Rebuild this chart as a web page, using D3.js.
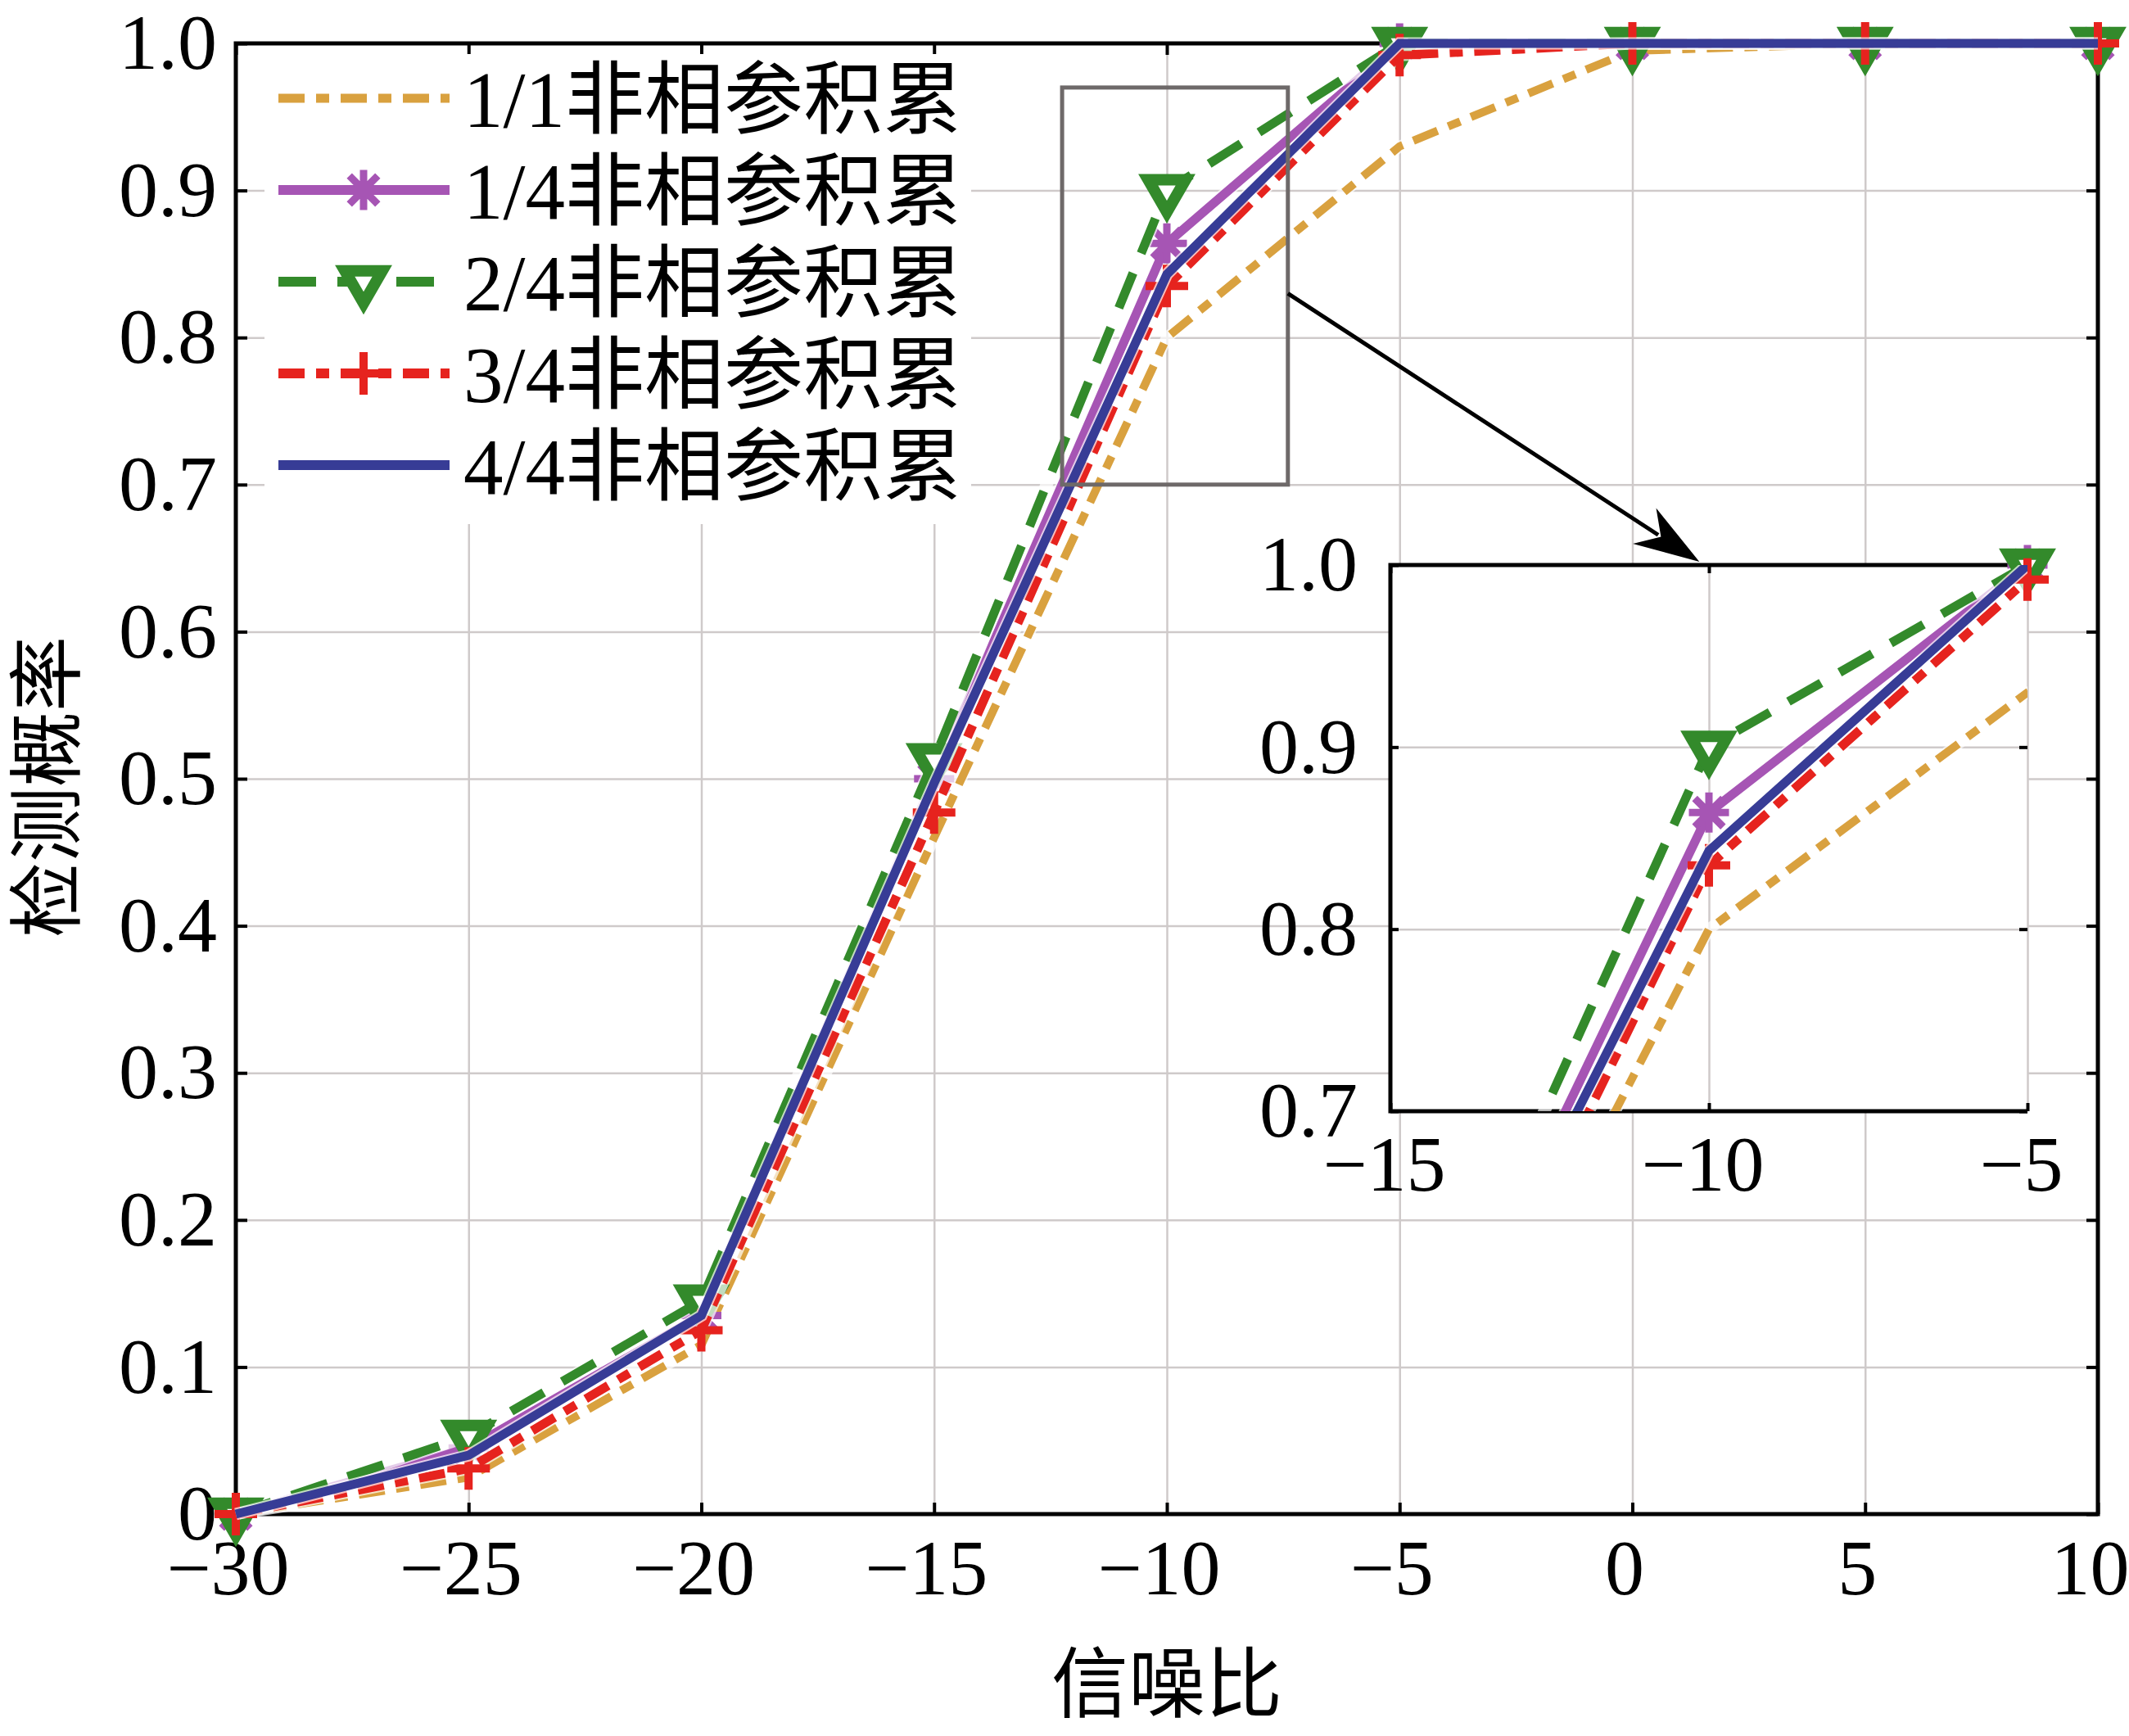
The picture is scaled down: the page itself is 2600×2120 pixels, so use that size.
<!DOCTYPE html>
<html>
<head>
<meta charset="utf-8">
<script src="https://cdn.jsdelivr.net/npm/d3@7"></script>
<style>
  body { margin: 0; background: #fff; }
  svg { display: block; }
</style>
</head>
<body>
<svg id="chart" width="2600" height="2120"></svg>
<script>
// ---------
// chart data
// ---------
var snr = [-30, -25, -20, -15, -10, -5, 0, 5, 10];
var pd11 = [0, 0.025, 0.115, 0.46, 0.80, 0.93, 0.995, 1, 1];
var pd14 = [0, 0.045, 0.135, 0.50, 0.864, 1, 1, 1, 1];
var pd24 = [0, 0.053, 0.145, 0.513, 0.90, 1, 1, 1, 1];
var pd34 = [0, 0.031, 0.125, 0.477, 0.835, 0.992, 1, 1, 1];
var pd44 = [0, 0.04, 0.135, 0.497, 0.843, 1, 1, 1, 1];
var seriesNames = ['1/1非相参积累', '1/4非相参积累', '2/4非相参积累', '3/4非相参积累', '4/4非相参积累'];

var xTicks = [-30, -25, -20, -15, -10, -5, 0, 5, 10];
var yTicks = [0, 0.1, 0.2, 0.3, 0.4, 0.5, 0.6, 0.7, 0.8, 0.9, 1.0];
var insetXTicks = [-15, -10, -5];
var insetYTicks = [0.7, 0.8, 0.9, 1.0];

// zoomed region marked in the main plot [x0, x1, y0, y1]
var zoomRegion = [-12.25, -7.4, 0.7, 0.97];
var xTitle = '信噪比';
var yTitle = '检测概率';

// ------
// styles
// ------
var styles = [
  { color: '#D9A13F', dash: '32,14,16,14', width: 10, marker: null },
  { color: '#A655B4', dash: null, width: 11, marker: 'asterisk' },
  { color: '#338A2B', dash: '46,26', width: 11, marker: 'triangle' },
  { color: '#E6231E', dash: '32,14,16,14', width: 11, marker: 'plus' },
  { color: '#373C96', dash: null, width: 11, marker: null }
];
var series = [pd11, pd14, pd24, pd34, pd44].map(function (values, i) {
  return {
    name: seriesNames[i],
    style: styles[i],
    points: snr.map(function (s, j) { return { x: s, y: values[j] }; })
  };
});

var numFont = '"Liberation Serif", "Times New Roman", serif';
var cjkFont = '"Liberation Serif", "Noto Sans CJK SC", serif';
var gridColor = '#CFCACA';

var svg = d3.select('#chart');

// main plot scales
var x = d3.scaleLinear().domain([-30, 10]).range([288, 2562]);
var y = d3.scaleLinear().domain([0, 1]).range([1849, 53]);

// inset scales
var ix = d3.scaleLinear().domain([-15, -5]).range([1698, 2476]);
var iy = d3.scaleLinear().domain([0.7, 1]).range([1357, 690]);

// marker paths
var markerPath = function (type) {
  if (type === 'triangle') {
    return d3.symbol().type(d3.symbolTriangle).size(900)();
  }
  if (type === 'plus') {
    return 'M-21,0H21M0,-21V21';
  }
  if (type === 'asterisk') {
    var r = 20, d = r * Math.SQRT1_2;
    return 'M' + (-r) + ',0H' + r + 'M0,' + (-r) + 'V' + r +
      'M' + (-d) + ',' + (-d) + 'L' + d + ',' + d +
      'M' + (-d) + ',' + d + 'L' + d + ',' + (-d);
  }
  return null;
};

var drawMarker = function (sel, st) {
  var m = sel.append('path')
    .attr('d', markerPath(st.marker))
    .attr('stroke', st.color)
    .attr('stroke-linecap', 'square');
  if (st.marker === 'triangle') {
    m.attr('fill', '#fff').attr('stroke-width', 14).attr('stroke-linejoin', 'miter');
  } else {
    m.attr('fill', 'none').attr('stroke-width', st.marker === 'plus' ? 10 : 9);
  }
  return m;
};

// draws the grid, ticks and tick labels for one set of axes
var drawAxes = function (g, sx, sy, xt, yt, opts) {
  var x0 = sx.range()[0], x1 = sx.range()[1];
  var y0 = sy.range()[1], y1 = sy.range()[0];

  // grid
  g.append('g')
    .attr('transform', 'translate(0,' + y1 + ')')
    .call(d3.axisBottom(sx).tickValues(xt).tickSize(-(y1 - y0)).tickFormat(''))
    .call(function (a) {
      a.select('.domain').remove();
      a.selectAll('line').attr('stroke', gridColor).attr('stroke-width', 2.5);
    });
  g.append('g')
    .attr('transform', 'translate(' + x0 + ',0)')
    .call(d3.axisLeft(sy).tickValues(yt).tickSize(-(x1 - x0)).tickFormat(''))
    .call(function (a) {
      a.select('.domain').remove();
      a.selectAll('line').attr('stroke', gridColor).attr('stroke-width', 2.5);
    });

  var styleTicks = function (a) {
    a.select('.domain').remove();
    a.selectAll('line').attr('stroke', '#000').attr('stroke-width', 4);
    a.selectAll('text')
      .attr('font-family', numFont)
      .attr('font-size', 96)
      .attr('fill', '#000');
  };

  // labelled bottom and left axes, ticks point inwards
  g.append('g')
    .attr('transform', 'translate(0,' + y1 + ')')
    .call(d3.axisBottom(sx).tickValues(xt).tickSize(-opts.tick).tickPadding(opts.xPad))
    .call(styleTicks)
    .selectAll('text').attr('dx', opts.xShift);
  g.append('g')
    .attr('transform', 'translate(' + x0 + ',0)')
    .call(d3.axisLeft(sy).tickValues(yt).tickSize(-opts.tick).tickPadding(opts.yPad)
      .tickFormat(function (d) { return d === 0 ? '0' : d3.format('.1f')(d); }))
    .call(styleTicks);

  // top and right ticks only
  g.append('g')
    .attr('transform', 'translate(0,' + y0 + ')')
    .call(d3.axisTop(sx).tickValues(xt).tickSize(-opts.tick).tickFormat(''))
    .call(styleTicks);
  g.append('g')
    .attr('transform', 'translate(' + x1 + ',0)')
    .call(d3.axisRight(sy).tickValues(yt).tickSize(-opts.tick).tickFormat(''))
    .call(styleTicks);
};

var line = function (sx, sy) {
  return d3.line().x(function (d) { return sx(d.x); }).y(function (d) { return sy(d.y); });
};

// draws all series onto a set of axes, each line with a thin white halo
var drawSeries = function (g, sx, sy, clipId, inside) {
  series.forEach(function (s) {
    var st = s.style;
    g.append('path')
      .datum(s.points)
      .attr('clip-path', clipId ? 'url(#' + clipId + ')' : null)
      .attr('d', line(sx, sy))
      .attr('fill', 'none')
      .attr('stroke', '#fff')
      .attr('stroke-width', st.width + 4)
      .attr('stroke-opacity', 0.7);
    g.append('path')
      .datum(s.points)
      .attr('clip-path', clipId ? 'url(#' + clipId + ')' : null)
      .attr('d', line(sx, sy))
      .attr('fill', 'none')
      .attr('stroke', st.color)
      .attr('stroke-width', st.width)
      .attr('stroke-dasharray', st.dash)
      .attr('stroke-linejoin', 'miter');

    if (st.marker) {
      s.points.filter(inside).forEach(function (p) {
        drawMarker(g, st)
          .attr('transform', 'translate(' + sx(p.x) + ',' + sy(p.y) + ')' +
            (st.marker === 'triangle' ? ' rotate(180)' : ''));
      });
    }
  });
};

// ---------
// main plot
// ---------
var main = svg.append('g').attr('class', 'main');

drawAxes(main, x, y, xTicks, yTicks, { tick: 14, xPad: 30, yPad: 23, xShift: -10 });

// main frame, drawn under the data lines
main.append('path')
  .attr('d', 'M' + x(-30) + ',' + y(1) + 'H' + x(10) + 'V' + y(0) + 'H' + x(-30) + 'Z')
  .attr('fill', 'none')
  .attr('stroke', '#000')
  .attr('stroke-width', 5);

drawSeries(main, x, y, null, function () { return true; });

// axis titles
svg.append('text')
  .attr('x', (x(-30) + x(10)) / 2)
  .attr('y', 2090)
  .attr('text-anchor', 'middle')
  .attr('font-family', cjkFont)
  .attr('font-size', 94)
  .text(xTitle);
svg.append('text')
  .attr('transform', 'translate(90,' + ((y(0) + y(1)) / 2 + 10) + ') rotate(-90)')
  .attr('text-anchor', 'middle')
  .attr('font-family', cjkFont)
  .attr('font-size', 92)
  .text(yTitle);

// ------
// legend
// ------
var legend = svg.append('g').attr('class', 'legend');
legend.append('rect')
  .attr('x', 323).attr('y', 66)
  .attr('width', 863).attr('height', 574)
  .attr('fill', '#fff');

series.forEach(function (s, i) {
  var st = s.style;
  var ly = 120 + i * 112;
  var row = legend.append('g').attr('transform', 'translate(0,' + ly + ')');
  row.append('line')
    .attr('x1', 340).attr('x2', 549)
    .attr('stroke', st.color)
    .attr('stroke-width', st.width + 1)
    .attr('stroke-dasharray', st.dash);
  if (st.marker) {
    drawMarker(row, st)
      .attr('transform', 'translate(444,0)' + (st.marker === 'triangle' ? ' rotate(180)' : ''));
  }
  row.append('text')
    .attr('x', 566)
    .attr('dy', '0.36em')
    .attr('font-family', cjkFont)
    .attr('font-size', 97)
    .text(s.name);
});

// ----------------------
// zoom marker and arrow
// ----------------------
svg.append('rect')
  .attr('x', x(zoomRegion[0]))
  .attr('y', y(zoomRegion[3]))
  .attr('width', x(zoomRegion[1]) - x(zoomRegion[0]))
  .attr('height', y(zoomRegion[2]) - y(zoomRegion[3]))
  .attr('fill', 'none')
  .attr('stroke', '#6E6969')
  .attr('stroke-width', 5);

var ax0 = x(zoomRegion[1]), ay0 = y(0.83);
var ax1 = ix(-10.15), ay1 = iy(1) - 4;
var ang = Math.atan2(ay1 - ay0, ax1 - ax0);
var headLen = 80, headW = 26;
var bx = ax1 - headLen * Math.cos(ang), by = ay1 - headLen * Math.sin(ang);
svg.append('line')
  .attr('x1', ax0).attr('y1', ay0)
  .attr('x2', bx + 20 * Math.cos(ang)).attr('y2', by + 20 * Math.sin(ang))
  .attr('stroke', '#000')
  .attr('stroke-width', 5);
svg.append('path')
  .attr('d', 'M' + ax1 + ',' + ay1 +
    'L' + (bx + headW * Math.sin(ang)) + ',' + (by - headW * Math.cos(ang)) +
    'L' + (bx + 24 * Math.cos(ang)) + ',' + (by + 24 * Math.sin(ang)) +
    'L' + (bx - headW * Math.sin(ang)) + ',' + (by + headW * Math.cos(ang)) + 'Z')
  .attr('fill', '#000');

// -----
// inset
// -----
var inset = svg.append('g').attr('class', 'inset');
svg.append('defs').append('clipPath').attr('id', 'inset-clip')
  .append('rect')
  .attr('x', ix(-15)).attr('y', iy(1))
  .attr('width', ix(-5) - ix(-15)).attr('height', iy(0.7) - iy(1));

inset.append('rect')
  .attr('x', ix(-15)).attr('y', iy(1))
  .attr('width', ix(-5) - ix(-15)).attr('height', iy(0.7) - iy(1))
  .attr('fill', '#fff');

drawAxes(inset, ix, iy, insetXTicks, insetYTicks, { tick: 10, xPad: 29, yPad: 40, xShift: -8 });

// inset frame: right edge is only a light grid line
inset.append('path')
  .attr('d', 'M' + ix(-5) + ',' + iy(1) + 'H' + ix(-15) + 'V' + iy(0.7) + 'H' + ix(-5))
  .attr('fill', 'none')
  .attr('stroke', '#000')
  .attr('stroke-width', 5);

drawSeries(inset, ix, iy, 'inset-clip', function (p) {
  return p.x >= -15 && p.x <= -5 && p.y >= 0.7;
});
</script>
</body>
</html>
